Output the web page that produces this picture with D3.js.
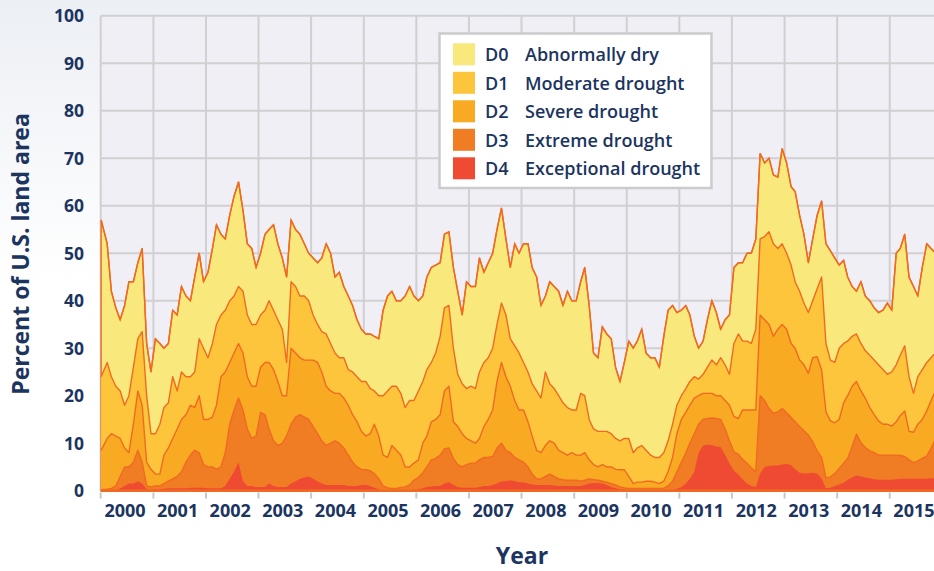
<!DOCTYPE html>
<html>
<head>
<meta charset="utf-8">
<script src="https://cdn.jsdelivr.net/npm/d3@7/dist/d3.min.js"></script>
<style>
  body { margin: 0; background: #fff; }
  svg { display: block; font-family: "Open Sans", "Noto Sans", sans-serif; }
</style>
</head>
<body>
<svg id="chart" width="934" height="571"></svg>
<script>
// percent of U.S. land area, monthly readings Jan 2000 - Nov 2015
// each series is cumulative: d0 = D0-D4, d1 = D1-D4, ... d4 = D4 only
var d0 = [
  57, 52, 42, 38.5, 36, 39, 44, 44, 48, 51, 31, 25,
  32, 31, 30, 31, 38, 37, 43, 41, 40, 45, 50, 44,
  46, 51, 56, 54, 53, 58, 62, 65, 59, 52, 51, 47,
  50, 54, 55, 56, 52, 49, 45, 57, 55, 54, 52, 50,
  49, 48, 49, 52, 50, 45, 46, 43, 41, 39, 36, 34,
  33, 33, 32.5, 32, 38, 41, 42, 40, 40, 41, 43, 41,
  40, 41, 45, 47, 47.5, 48, 54, 54.5, 47, 42, 37, 44,
  43, 43, 49, 46, 48, 50, 55, 59.5, 53, 47, 52, 50,
  52, 52, 47, 45, 39, 41, 44, 43, 42, 39, 42, 40,
  40, 44, 47, 39, 29, 28, 34.5, 33, 32, 26, 23, 27,
  31.5, 30, 31.5, 34, 29, 28, 28, 26, 32.5, 38, 39, 37.5,
  38, 39, 37, 32.5, 30, 31.5, 36, 40, 37.5, 34, 36, 37,
  47, 48, 48, 50, 50, 53, 71, 69, 70, 66.5, 66, 72,
  69, 64, 63, 58, 54, 48, 53, 58, 61, 52, 50.5, 49,
  47.5, 48.5, 45, 43, 42, 44, 41, 40, 38.5, 37.5, 38, 39.5,
  38, 50, 51, 54, 45, 43, 41, 47, 52, 51, 50
];
var d1 = [
  24, 27, 24, 22, 21, 18, 20, 26, 32, 33.5, 20, 12,
  12, 14, 17.5, 18.5, 24, 21, 25, 24, 24, 25, 32, 30,
  28, 31, 35, 37, 38, 40, 41, 43, 42, 37, 35, 35,
  37, 38, 40, 38, 36, 34, 27, 44, 43, 41, 41, 40,
  37, 35, 33.5, 33, 31, 29, 28, 28, 25.5, 25, 24, 23,
  23, 21.5, 21, 20, 20, 21, 22, 22, 20.5, 17.5, 19, 19,
  21, 23, 25.5, 27, 29, 32.5, 38.5, 39, 30, 24.5, 22.5, 21.5,
  22, 21.5, 25, 27, 28, 30, 35, 39.5, 37, 32, 30.5, 29,
  27, 25, 22.5, 21, 19.5, 25, 22.5, 21.5, 20, 18.5, 17.5, 17,
  17, 20.5, 20, 15, 13, 12.5, 12.5, 12.5, 12, 11, 10.5, 11,
  11, 8, 9, 9.5, 8.5, 7.5, 7, 7, 8, 10.5, 14, 18,
  20, 21.5, 23, 24, 23.5, 24.5, 26, 27.5, 26.5, 28, 26.5, 24.5,
  31, 33, 31.5, 31.5, 31, 34, 53, 53.5, 54.5, 52, 51, 52,
  50, 47.5, 44, 42, 39.5, 37.5, 40, 42.5, 45, 31, 27.5, 27,
  30, 31, 31.5, 32.5, 33, 31, 29.5, 28.5, 27.5, 26.5, 25.5, 24.5,
  25, 26.5, 28.5, 30.5, 24, 20.5, 24, 25.5, 27, 28, 29
];
var d2 = [
  8.5, 11, 12, 11.5, 11, 9, 8, 14, 21, 18, 6, 4.5,
  3.5, 3.5, 7.5, 9, 11, 13, 15, 16, 18, 17.5, 20, 15,
  15, 15.5, 18, 24, 25, 27, 29, 31, 29, 24, 22, 22,
  26, 27, 27, 25.5, 23, 20, 20, 30, 29, 28, 27.5, 27.5,
  27.5, 27, 25, 22, 21, 20.5, 20.5, 19.5, 18, 16, 14.5, 12.5,
  11.5, 12, 14, 11.5, 7.5, 7, 9.5, 8.5, 7.5, 5, 5, 5.8,
  6.5, 10, 11.5, 14.5, 15, 16, 21, 22, 14.5, 13.5, 12, 11,
  10.5, 10, 11, 13.5, 15, 17, 23, 27, 24, 22, 19, 17,
  17, 14.5, 11.5, 8.5, 8, 9.5, 10.5, 10, 8.5, 8, 7.5, 8,
  7.5, 7.5, 8, 6.5, 5.5, 5, 5.5, 5, 5, 4.5, 4.4, 4.4,
  3, 1.5, 1.8, 1.8, 2, 2, 1.8, 1.5, 2, 4, 7, 12,
  15, 16.5, 18, 19.5, 20, 20.5, 20.5, 20.5, 20, 20, 19, 18,
  15.6, 15.2, 17, 17, 17, 17, 37, 36, 35, 32.5, 34, 35,
  34, 31, 30, 27.5, 26.5, 24.7, 28, 28.2, 25.4, 16.6, 14.7, 14.3,
  15, 18.5, 20, 22, 23, 21, 19.5, 17.5, 16, 14.7, 14, 14,
  13.6, 14.5, 15.8, 16.8, 12.5, 12.3, 14, 15, 16.8, 19, 21
];
var d3v = [
  0.2, 0.3, 0.5, 1, 3, 5, 5, 6, 8.5, 6, 1, 0.8,
  1, 1, 1.5, 2, 2.5, 3, 4, 6, 7.5, 8.5, 8, 5.5,
  5, 5, 4.5, 5, 8, 14, 17, 19.5, 17, 13, 11, 11.5,
  16.5, 16, 13, 10.5, 9.5, 10, 11.5, 14, 15.5, 16, 15.5, 15,
  13.5, 12, 10.5, 9.5, 10, 10.5, 10, 9, 7.5, 6, 5, 4.5,
  4.4, 4.2, 3.6, 2.5, 1, 0.6, 0.5, 0.5, 0.7, 0.8, 1.2, 2.2,
  2.8, 3.8, 5, 6.5, 6.8, 7.5, 8.8, 9, 6.8, 5.5, 5, 5.5,
  5.8, 5.8, 6.5, 7, 7, 7.2, 9, 10, 8.5, 8, 7, 6.5,
  6, 5, 3.5, 2.5, 2.5, 3, 3.5, 3, 2.5, 2.3, 2.2, 2.2,
  2.2, 2, 2.2, 2.5, 2.3, 2.2, 2, 1.8, 1.5, 1.2, 0.8, 0.6,
  0.5, 0.5, 0.5, 0.5, 0.5, 0.5, 0.5, 0.5, 0.5, 1, 2, 4,
  6, 8, 10, 12, 14, 15, 15.2, 15.3, 15.2, 15, 13, 10.5,
  8.2, 7.7, 6.6, 5.8, 4.8, 4, 20, 19, 17.3, 16.3, 16.6, 17.3,
  16.4, 15.4, 14.5, 13.5, 12.6, 11.7, 10.3, 8.4, 7, 2.7, 2.9, 3.6,
  4.7, 5.8, 6.8, 9.3, 11.9, 10.1, 9.1, 8.4, 8, 7.5, 7.5, 7.5,
  7.5, 7.5, 7.4, 7.2, 6.5, 5.9, 6.3, 6.8, 7.3, 8.9, 11
];
var d4 = [
  0, 0, 0, 0, 0.5, 1, 1.5, 1.5, 2, 1.5, 0.3, 0.2,
  0.3, 0.3, 0.4, 0.5, 0.5, 0.5, 0.5, 0.5, 0.6, 0.6, 0.6, 0.6,
  0.5, 0.5, 0.5, 0.5, 1, 2.5, 4, 6, 2, 1, 1, 0.8,
  0.8, 0.8, 1.5, 1, 0.8, 0.8, 0.8, 1.5, 2, 2.5, 2.8, 3,
  2.5, 2, 1.5, 1.2, 1.2, 1.2, 1.2, 1.2, 1, 1, 1, 1.2,
  1.2, 1, 0.6, 0.3, 0.1, 0, 0, 0, 0, 0, 0.1, 0.2,
  0.3, 0.5, 0.8, 0.9, 1, 1, 1.5, 1.8, 1.2, 0.8, 0.6, 0.6,
  0.6, 0.6, 0.8, 1, 1, 1.2, 1.5, 2, 2, 2.2, 2, 1.8,
  1.8, 1.5, 1.3, 1.2, 1.2, 1.2, 1.2, 1.1, 1, 1, 1, 1,
  1, 1, 1.2, 1.5, 1.6, 1.6, 1.5, 1.2, 0.8, 0.5, 0.3, 0.2,
  0.1, 0, 0, 0, 0, 0, 0, 0, 0, 0.1, 0.2, 0.4,
  0.8, 1.5, 2.5, 4, 8, 9.5, 9.7, 9.6, 9.3, 9.2, 7.5, 5.8,
  4.2, 3.4, 2.4, 1.5, 1, 0.8, 3.6, 5, 5.2, 5.3, 5.3, 5.5,
  5.6, 5.4, 4.5, 3.8, 3.6, 3.7, 3.8, 3.6, 2.5, 0.5, 0.6, 1,
  1.3, 1.7, 2.3, 2.8, 3.2, 3, 2.8, 2.6, 2.4, 2.3, 2.3, 2.3,
  2.3, 2.4, 2.5, 2.5, 2.5, 2.5, 2.5, 2.5, 2.5, 2.6, 2.6
];

var categories = ["D0", "D1", "D2", "D3", "D4"];
var categoryNames = ["Abnormally dry", "Moderate drought", "Severe drought", "Extreme drought", "Exceptional drought"];
var colors = ["#f9e97c", "#fdc53b", "#f7aa22", "#f07d24", "#ef4b33"];
var yTicks = [0, 10, 20, 30, 40, 50, 60, 70, 80, 90, 100];
var yearLabels = ["2000", "2001", "2002", "2003", "2004", "2005", "2006", "2007",
                  "2008", "2009", "2010", "2011", "2012", "2013", "2014", "2015"];

var W = 934, H = 571;
var textColor = "#1b3460";
var lineColor = "#f06a22";
var gridColor = "#d0d0d3";

var svg = d3.select("#chart");

// page background, slightly grey at the top
var defs = svg.append("defs");
var grad = defs.append("linearGradient").attr("id", "bg").attr("x1", 0).attr("y1", 0).attr("x2", 0).attr("y2", 1);
grad.append("stop").attr("offset", "0%").attr("stop-color", "#eceff4");
grad.append("stop").attr("offset", "50%").attr("stop-color", "#ffffff");
svg.append("rect").attr("width", W).attr("height", H).attr("fill", "url(#bg)");

var x = d3.scaleTime()
    .domain([new Date(2000, 0, 1), new Date(2016, 0, 1)])
    .range([100.7, 942.3]);
var y = d3.scaleLinear().domain([0, 100]).range([490.7, 15.7]);

// one date per monthly reading (first one is the first map of 2000)
var dates = d0.map(function(v, i) {
    return i === 0 ? new Date(2000, 0, 4) : new Date(2000, i, 15);
});
var series = [d0, d1, d2, d3v, d4];

// plot panel and grid
svg.append("rect")
    .attr("x", x.range()[0]).attr("y", y(100))
    .attr("width", x.range()[1] - x.range()[0]).attr("height", y(0) - y(100))
    .attr("fill", "#efeff5");

var yearStarts = d3.range(2000, 2017).map(function(yr) { return new Date(yr, 0, 1); });

svg.append("g").selectAll("line.h")
    .data(yTicks).enter().append("line")
    .attr("x1", x.range()[0]).attr("x2", x.range()[1])
    .attr("y1", function(d) { return y(d); }).attr("y2", function(d) { return y(d); })
    .attr("stroke", gridColor).attr("stroke-width", 2);

svg.append("g").selectAll("line.v")
    .data(yearStarts).enter().append("line")
    .attr("x1", function(d) { return x(d); }).attr("x2", function(d) { return x(d); })
    .attr("y1", y(100)).attr("y2", y(0))
    .attr("stroke", gridColor).attr("stroke-width", 2);

// drought layers, widest first
series.forEach(function(s, k) {
    var pts = s.map(function(v, i) { return { date: dates[i], value: v }; });
    var area = d3.area()
        .x(function(d) { return x(d.date); })
        .y0(y(0))
        .y1(function(d) { return y(d.value); });
    var line = d3.line()
        .x(function(d) { return x(d.date); })
        .y(function(d) { return y(d.value); });
    svg.append("path").datum(pts)
        .attr("d", area)
        .attr("fill", colors[k])
        .attr("stroke", k === 0 ? lineColor : "none")
        .attr("stroke-width", 1.4);
    if (k < 4) {
        svg.append("path").datum(pts)
            .attr("d", line)
            .attr("fill", "none")
            .attr("stroke", lineColor)
            .attr("stroke-width", 1.4)
            .attr("stroke-linejoin", "round");
    }
});

// baseline
svg.append("line")
    .attr("x1", x.range()[0]).attr("x2", W)
    .attr("y1", y(0)).attr("y2", y(0))
    .attr("stroke", lineColor).attr("stroke-width", 2.5);

// year ticks below the plot
svg.append("g").selectAll("line")
    .data(yearStarts).enter().append("line")
    .attr("x1", function(d) { return x(d); }).attr("x2", function(d) { return x(d); })
    .attr("y1", 492.5).attr("y2", 498.5)
    .attr("stroke", "#c8c8cb").attr("stroke-width", 2);

// year labels centred in each year
svg.append("g").selectAll("text")
    .data(yearLabels).enter().append("text")
    .attr("x", function(d) { return x(new Date(+d, 6, 2)) - 2; })
    .attr("y", 517)
    .attr("text-anchor", "middle")
    .attr("fill", textColor)
    .style("font-size", "18px").style("font-weight", 700)
    .text(function(d) { return d; });

// y tick labels
svg.append("g").selectAll("text")
    .data(yTicks).enter().append("text")
    .attr("x", 84)
    .attr("y", function(d) { return y(d); })
    .attr("dy", "0.36em")
    .attr("text-anchor", "end")
    .attr("fill", textColor)
    .style("font-size", "17.5px").style("font-weight", 700)
    .text(function(d) { return d; });

// axis titles
svg.append("text")
    .attr("x", 522).attr("y", 564)
    .attr("text-anchor", "middle")
    .attr("fill", textColor)
    .style("font-size", "23px").style("font-weight", 700)
    .text("Year");

svg.append("text")
    .attr("transform", "translate(29,254) rotate(-90)")
    .attr("text-anchor", "middle")
    .attr("fill", textColor)
    .style("font-size", "23px").style("font-weight", 700)
    .text("Percent of U.S. land area");

// legend
var lg = svg.append("g");
lg.append("rect")
    .attr("x", 439.5).attr("y", 33.5).attr("width", 272).attr("height", 154.5)
    .attr("fill", "#ffffff").attr("stroke", "#cbcbcd").attr("stroke-width", 2.5);

var rows = lg.selectAll("g.row")
    .data(categories).enter().append("g")
    .attr("transform", function(d, i) { return "translate(0," + (43.3 + i * 28.5) + ")"; });
rows.append("rect")
    .attr("x", 453).attr("y", 0).attr("width", 22).attr("height", 22)
    .attr("fill", function(d, i) { return colors[i]; });
rows.append("text")
    .attr("x", 485).attr("y", 18)
    .attr("fill", textColor)
    .style("font-size", "18px").style("font-weight", 600)
    .text(function(d) { return d; });
rows.append("text")
    .attr("x", 525).attr("y", 18)
    .attr("fill", textColor)
    .style("font-size", "18px").style("font-weight", 600)
    .text(function(d, i) { return categoryNames[i]; });
</script>
</body>
</html>
